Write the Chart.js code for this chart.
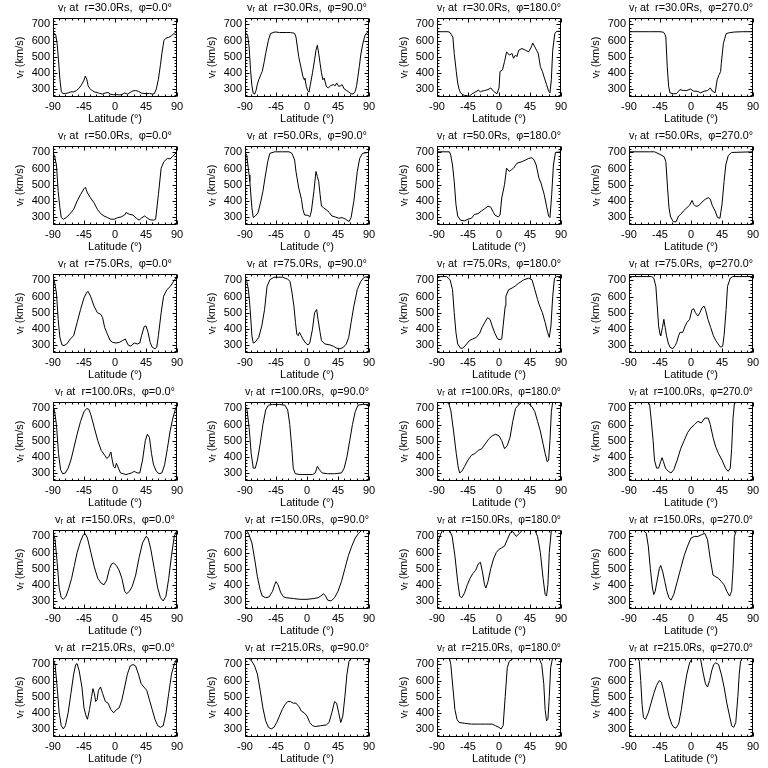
<!DOCTYPE html>
<html>
<head>
<meta charset="utf-8">
<script src="https://cdn.jsdelivr.net/npm/chart.js@4.4.1/dist/chart.umd.min.js"></script>
<style>
body { margin: 0; background: #fff; }
#grid { position: relative; width: 768px; height: 768px; }
#grid canvas { position: absolute; }
</style>
</head>
<body>
<div id="grid"></div>
<script>
// axes
const latTicks = [-90, -45, 0, 45, 90];
const vTicks = [300, 400, 500, 600, 700];
const vMin = 250, vMax = 740;
const radii = [30, 50, 75, 100, 150, 215];
const longitudes = [0, 90, 180, 270];

// [latitude, v_r]
const r30p0 = [[-90,650],[-88,645],[-86,635],[-84,580],[-82,480],[-80,360],[-78,285],[-76,272],[-72,272],[-68,275],[-64,282],[-60,282],[-56,290],[-52,305],[-48,330],[-45,355],[-43,380],[-41,360],[-39,320],[-37,305],[-34,292],[-30,282],[-26,278],[-22,272],[-18,268],[-14,275],[-10,278],[-6,266],[-2,264],[2,265],[6,263],[10,265],[14,275],[18,268],[22,278],[26,288],[30,290],[34,285],[38,275],[42,272],[46,270],[50,272],[54,268],[57,270],[60,300],[63,360],[66,450],[68,520],[71,600],[74,615],[78,620],[82,630],[86,645],[90,660]];
const r30p90 = [[-90,655],[-88,643],[-86,630],[-84,560],[-82,420],[-80,320],[-78,272],[-76,268],[-74,290],[-72,330],[-70,357],[-67,390],[-65,408],[-62,470],[-60,520],[-56,602],[-53,643],[-48,652],[-45,653],[-40,650],[-30,650],[-24,650],[-18,645],[-16,622],[-12,500],[-8,418],[-6,378],[-4,357],[-3,367],[-1,316],[1,290],[3,280],[5,330],[8,400],[11,480],[13,540],[15,571],[17,520],[19,459],[21,400],[23,357],[25,367],[28,316],[31,306],[34,320],[38,327],[41,320],[43,337],[46,316],[49,320],[51,327],[54,300],[57,292],[61,280],[64,270],[67,268],[70,285],[72,320],[74,380],[76,440],[78,510],[81,580],[84,630],[86,645],[90,653]];
const r30p180 = [[-90,655],[-80,655],[-74,655],[-71,650],[-69,635],[-67,622],[-65,520],[-62,408],[-60,337],[-58,300],[-56,276],[-53,265],[-50,260],[-46,258],[-43,255],[-39,270],[-35,280],[-30,292],[-27,282],[-25,286],[-21,290],[-16,296],[-12,306],[-8,286],[-3,270],[0,306],[1.5,408],[5,418],[8,469],[11,530],[15,510],[19,520],[21,490],[24,510],[26,500],[28.6,540],[33.5,551],[38.5,540],[43,530],[47,561],[49,585],[52,561],[54.5,540],[57,520],[60,439],[63,408],[66,367],[69,327],[72,286],[74,276],[76,357],[78,540],[81,643],[83.5,657],[90,657]];
const r30p270 = [[-90,655],[-60,655],[-45,655],[-40,652],[-38,640],[-36.5,622],[-34.5,440],[-32.5,316],[-30.5,276],[-25.6,270],[-21,271],[-18,285],[-16,296],[-11,290],[-6,290],[-1,300],[4,286],[9,286],[14,276],[19,286],[24,290],[28,306],[31,286],[35,276],[38,357],[41,390],[43,408],[44,459],[47,582],[51,643],[56,649],[63,653],[75,655],[90,655]];

const r50p0 = [[-90,704],[-87.5,673],[-85,622],[-82.5,459],[-80,357],[-78,296],[-74.6,286],[-71,296],[-66,316],[-60,347],[-55,398],[-50,439],[-45,475],[-43,484],[-40,449],[-35.5,418],[-30.5,388],[-25.6,347],[-20.7,320],[-16,306],[-11,296],[-6,286],[-1,286],[4,296],[9,300],[14,312],[16,327],[21,316],[26,312],[31,292],[35,280],[38,292],[43,306],[46,296],[51,282],[56,280],[59,286],[63,439],[67,602],[71,643],[76,663],[80,660],[83,673],[87,690],[90,704]];
const r50p90 = [[-90,700],[-87.5,683],[-84,560],[-83,520],[-80,357],[-78,296],[-75,306],[-71,327],[-67,398],[-64,459],[-61,541],[-57,643],[-54,694],[-47,704],[-35,704],[-26,704],[-22,695],[-20.7,683],[-18,653],[-16,582],[-12,480],[-8,408],[-6,347],[-3.5,312],[1.5,310],[4,300],[6.4,337],[10,459],[13,582],[15,551],[17,520],[19,439],[21,367],[24,357],[29,341],[32.5,327],[36,306],[41,300],[46,292],[51,296],[56,286],[61,271],[64,296],[68,398],[73,582],[76.5,663],[80.5,694],[88,700],[90,700]];
const r50p180 = [[-90,704],[-72,704],[-70,683],[-67.5,622],[-65,520],[-62.5,378],[-60,306],[-56,280],[-50,276],[-45,286],[-40,292],[-35.5,316],[-30.5,320],[-25.6,337],[-20.7,351],[-16,367],[-12,361],[-8,327],[-6,312],[-1,300],[1.5,312],[4,418],[8,500],[11,602],[15,582],[17.8,592],[21,602],[26,633],[33.5,643],[38.5,653],[43,663],[48,667],[51,653],[54,622],[58,541],[61,510],[65.6,439],[69,367],[72,306],[74,296],[76.5,439],[79,622],[82,700],[90,704]];
const r50p270 = [[-90,704],[-60,704],[-53,704],[-45,688],[-39,673],[-36.5,643],[-34,480],[-32,357],[-29.6,300],[-25.6,270],[-21.7,270],[-18,306],[-15,316],[-11,337],[-6,357],[-2,373],[1.5,402],[4,378],[6.4,367],[10,367],[14,382],[17.8,400],[21,410],[25,420],[28,410],[31,370],[35,337],[38.5,296],[42,292],[45,378],[48,520],[50.5,622],[54,680],[59,700],[90,704]];

const r75p0 = [[-90,728],[-87.5,683],[-85,622],[-82.5,459],[-80,347],[-77,300],[-74,296],[-70,306],[-65,337],[-60,357],[-55,439],[-50,520],[-45,592],[-41,626],[-39,632],[-35.5,602],[-30.5,541],[-25.6,500],[-20.7,490],[-18,469],[-15,408],[-11,367],[-7,327],[-3.5,316],[1.5,312],[6.4,316],[11,327],[15,337],[19,300],[23,292],[26,306],[28.6,312],[32.5,306],[36,312],[38.5,357],[42.4,414],[45,418],[48,378],[51,316],[54,286],[58,276],[60.6,286],[63,357],[67,500],[70.5,602],[75.4,643],[80.4,663],[85,694],[90,724]];
const r75p90 = [[-90,724],[-87.5,694],[-85,643],[-82.5,520],[-80,357],[-78,312],[-75.5,316],[-70,347],[-65.6,418],[-61.6,520],[-58,663],[-54,704],[-48,720],[-35.5,720],[-28,708],[-24.6,694],[-21.7,622],[-19,541],[-16.7,439],[-14.8,367],[-12.8,357],[-11,378],[-8.4,357],[-6,337],[-2,312],[1.5,300],[4,312],[8,398],[11,500],[14,520],[16,459],[19,378],[21,327],[26,306],[33.5,300],[38.5,292],[43,280],[48,276],[53,286],[57,306],[60.6,347],[64,439],[68,541],[73,643],[78,694],[83,720],[90,724]];
const r75p180 = [[-90,724],[-76,724],[-71,704],[-67.5,643],[-65,500],[-62.5,378],[-60,306],[-56,280],[-52.8,280],[-48,300],[-43,327],[-38,337],[-33,347],[-28,373],[-24.6,408],[-20.7,439],[-16.7,469],[-13,459],[-10,418],[-6,373],[-2,337],[1.5,333],[4,337],[6,418],[9,541],[10,602],[14,643],[19,653],[24,667],[28.6,683],[36,704],[43,714],[48,704],[52,643],[56,582],[59,541],[63,500],[67,439],[70.5,378],[73,347],[75.4,418],[78,602],[80.5,714],[84,724],[90,724]];
const r75p270 = [[-90,724],[-57,724],[-54,714],[-51,663],[-49,541],[-47,418],[-45,367],[-44,357],[-41.4,408],[-39.4,459],[-37.5,408],[-35.5,357],[-33,312],[-30.5,286],[-26.6,276],[-23,296],[-20.7,316],[-18,357],[-16,378],[-12,378],[-8.4,418],[-6,439],[-2,459],[1.5,520],[4,524],[6.4,500],[10,480],[13,500],[16,530],[19,541],[21,520],[24.6,459],[28.6,408],[32.5,357],[36,327],[39.4,306],[43,286],[46,292],[48,357],[51,520],[53,663],[57,714],[60.6,724],[90,724]];

const r100p0 = [[-90,715],[-88,690],[-85,600],[-82,420],[-79,320],[-76,295],[-72,300],[-68,330],[-64,380],[-60,450],[-55,540],[-50,620],[-45,680],[-41,700],[-38,695],[-35,660],[-30,580],[-25,500],[-20,440],[-15,410],[-12,390],[-9,400],[-6,430],[-4,380],[-2,340],[0,330],[2,360],[5,330],[8,300],[12,295],[16,290],[20,295],[24,300],[28,310],[32,300],[36,300],[40,380],[44,500],[47,540],[50,520],[53,420],[56,350],[60,310],[64,295],[68,300],[72,350],[76,450],[80,560],[84,640],[88,700],[90,720]];
const r100p90 = [[-90,720],[-87,690],[-84,580],[-81,420],[-78,330],[-75,330],[-72,380],[-68,480],[-64,600],[-60,690],[-56,720],[-50,725],[-40,725],[-32,720],[-28,690],[-25,600],[-22,450],[-20,330],[-17,295],[-10,290],[0,290],[8,290],[12,300],[15,340],[18,320],[22,300],[30,295],[40,295],[50,300],[54,330],[58,400],[62,500],[66,600],[70,680],[74,720],[80,725],[90,725]];
const r100p180 = [[-90,740],[-76,740],[-73,730],[-70,690],[-66,560],[-62,420],[-59,330],[-57,300],[-54,310],[-50,340],[-45,380],[-40,410],[-35,420],[-30,440],[-25,450],[-20,480],[-15,510],[-10,530],[-5,540],[0,530],[4,500],[8,450],[12,470],[16,520],[20,620],[24,700],[28,720],[33,740],[38,740],[43,730],[48,710],[52,680],[56,620],[60,560],[64,480],[67,420],[70,370],[72,380],[74,500],[76,680],[78,740],[90,740]];
const r100p270 = [[-90,740],[-62,740],[-60,720],[-58,640],[-55,500],[-53,380],[-50,330],[-47,330],[-44,370],[-42,395],[-40,370],[-37,330],[-33,310],[-29,300],[-25,320],[-20,380],[-15,450],[-10,500],[-5,550],[0,580],[5,600],[10,620],[15,610],[20,640],[25,640],[28,600],[32,520],[36,460],[40,420],[45,380],[50,330],[54,310],[57,330],[59,450],[61,640],[63,730],[66,740],[90,740]];

const r150p0 = [[-90,730],[-87,680],[-84,540],[-81,380],[-78,320],[-75,310],[-71,330],[-67,380],[-63,440],[-59,520],[-55,600],[-50,670],[-46,710],[-43,715],[-40,690],[-35,600],[-30,510],[-25,440],[-20,410],[-16,400],[-12,430],[-8,500],[-5,530],[-2,535],[2,520],[6,490],[10,440],[14,360],[17,345],[21,360],[25,390],[30,460],[35,570],[40,660],[45,700],[48,690],[52,620],[57,500],[62,380],[66,320],[70,300],[74,330],[78,440],[82,580],[86,700],[90,740]];
const r150p90 = [[-90,750],[-85,720],[-80,660],[-76,560],[-72,450],[-68,370],[-65,330],[-60,320],[-55,325],[-50,360],[-47,400],[-45,420],[-42,400],[-38,350],[-34,325],[-30,320],[-20,315],[-10,310],[0,310],[10,315],[16,320],[20,330],[24,345],[27,330],[30,305],[35,300],[40,320],[45,360],[50,420],[55,500],[60,580],[65,640],[70,690],[75,720],[80,740],[90,750]];
const r150p180 = [[-90,650],[-86,700],[-82,740],[-76,745],[-72,740],[-68,700],[-64,580],[-60,420],[-57,330],[-54,320],[-50,350],[-46,400],[-42,440],[-38,470],[-34,490],[-30,530],[-27,540],[-24,480],[-21,400],[-19,380],[-16,420],[-12,500],[-8,560],[-4,600],[0,620],[4,630],[8,640],[12,680],[16,720],[20,730],[25,700],[30,720],[35,745],[45,745],[52,740],[56,700],[60,600],[64,440],[67,340],[69,330],[71,400],[73,600],[76,740],[90,745]];
const r150p270 = [[-90,740],[-80,745],[-70,740],[-65,720],[-62,640],[-59,500],[-56,380],[-54,340],[-52,360],[-49,430],[-46,500],[-44,520],[-41,480],[-38,420],[-35,360],[-32,320],[-29,305],[-25,340],[-20,420],[-15,500],[-10,580],[-5,640],[0,690],[5,700],[10,700],[15,710],[20,720],[24,680],[28,560],[32,460],[36,450],[40,440],[44,420],[48,400],[52,360],[56,330],[59,360],[61,500],[63,700],[66,740],[90,745]];

const r215p0 = [[-90,730],[-87,700],[-84,560],[-81,400],[-78,320],[-75,300],[-72,320],[-68,400],[-64,520],[-60,640],[-57,700],[-55,705],[-52,660],[-48,560],[-45,430],[-42,380],[-40,360],[-37,420],[-34,500],[-32,550],[-30,520],[-28,470],[-26,480],[-24,540],[-21,560],[-18,520],[-14,470],[-10,460],[-6,420],[-2,400],[2,420],[6,430],[10,480],[14,560],[18,640],[22,690],[26,700],[30,690],[34,640],[38,580],[42,560],[46,540],[50,480],[54,420],[58,360],[62,320],[66,310],[70,320],[74,400],[78,520],[82,640],[86,700],[90,740]];
const r215p90 = [[-90,750],[-85,740],[-80,720],[-76,690],[-72,640],[-68,540],[-64,430],[-60,350],[-56,310],[-52,300],[-48,310],[-44,340],[-40,380],[-36,420],[-32,450],[-28,470],[-24,470],[-20,460],[-16,460],[-12,440],[-8,410],[-4,400],[0,380],[4,340],[8,320],[12,315],[20,320],[28,325],[32,340],[36,400],[40,470],[43,460],[46,400],[49,340],[52,380],[55,500],[58,640],[61,720],[65,745],[90,750]];
const r215p180 = [[-90,740],[-76,745],[-72,740],[-70,700],[-67,560],[-64,420],[-61,360],[-58,340],[-50,335],[-40,330],[-30,330],[-20,330],[-10,330],[-5,320],[0,310],[3,300],[6,320],[9,500],[12,680],[15,720],[20,735],[30,745],[40,750],[50,750],[58,740],[62,700],[65,580],[67,420],[69,350],[71,360],[73,500],[75,680],[78,745],[90,750]];
const r215p270 = [[-90,750],[-78,750],[-75,720],[-73,600],[-71,450],[-69,370],[-66,360],[-62,400],[-58,460],[-54,520],[-50,570],[-46,600],[-43,590],[-40,540],[-36,460],[-32,380],[-28,330],[-25,310],[-22,305],[-18,330],[-14,420],[-10,540],[-6,640],[-2,710],[2,740],[6,745],[10,745],[14,730],[18,640],[21,580],[24,560],[27,600],[30,660],[33,700],[36,710],[40,700],[44,640],[48,560],[52,460],[56,380],[59,320],[62,310],[65,340],[68,500],[70,640],[72,720],[75,745],[90,750]];

const panels = [
    [r30p0, r30p90, r30p180, r30p270],
    [r50p0, r50p90, r50p180, r50p270],
    [r75p0, r75p90, r75p180, r75p270],
    [r100p0, r100p90, r100p180, r100p270],
    [r150p0, r150p90, r150p180, r150p270],
    [r215p0, r215p90, r215p180, r215p270]
];

Chart.defaults.font.family = "'Liberation Sans', 'DejaVu Sans', sans-serif";
Chart.defaults.font.size = 11;
Chart.defaults.color = '#000';

// box round the plot with inward ticks, IDL style
const frame = {
    id: 'frame',
    afterDraw(chart) {
        const {ctx, chartArea: a, scales: {x, y}} = chart;
        const L = Math.round(a.left) + 0.5, R = Math.round(a.right) - 0.5;
        const T = Math.round(a.top) + 0.5, B = Math.round(a.bottom) - 0.5;
        ctx.save();
        ctx.strokeStyle = '#000';
        ctx.lineWidth = 1;
        ctx.beginPath();
        ctx.rect(L, T, R - L, B - T);
        for (let v = -90; v <= 90; v += 9) {
            const px = Math.round(x.getPixelForValue(v)) + 0.5;
            const len = latTicks.includes(v) ? 4 : 2;
            ctx.moveTo(px, B); ctx.lineTo(px, B - len);
            ctx.moveTo(px, T); ctx.lineTo(px, T + len);
        }
        for (let v = 260; v <= vMax; v += 20) {
            const py = Math.round(y.getPixelForValue(v)) + 0.5;
            const len = vTicks.includes(v) ? 4 : 2;
            ctx.moveTo(L, py); ctx.lineTo(L + len, py);
            ctx.moveTo(R, py); ctx.lineTo(R - len, py);
        }
        ctx.stroke();
        ctx.restore();
    }
};

const grid = document.getElementById('grid');
radii.forEach((r, row) => {
    longitudes.forEach((phi, col) => {
        const cv = document.createElement('canvas');
        cv.width = 192;
        cv.height = 128;
        cv.style.left = (col * 192) + 'px';
        cv.style.top = (row * 128) + 'px';
        grid.appendChild(cv);

        new Chart(cv, {
            type: 'line',
            data: {
                datasets: [{
                    data: panels[row][col],
                    borderColor: '#000',
                    borderWidth: 1,
                    pointRadius: 0,
                    tension: 0
                }]
            },
            options: {
                responsive: false,
                animation: false,
                events: [],
                layout: { padding: { left: 0, right: 15, top: 0, bottom: 0 } },
                plugins: {
                    legend: { display: false },
                    tooltip: { enabled: false },
                    title: {
                        display: true,
                        fullSize: false,
                        text: `vᵣ at  r=${r.toFixed(1)}Rs,  φ=${phi.toFixed(1)}°`,
                        font: { size: 11, weight: 'normal', lineHeight: '13px' },
                        padding: { top: 1, bottom: 4 }
                    }
                },
                scales: {
                    x: {
                        type: 'linear',
                        min: -90,
                        max: 90,
                        grid: { display: false, drawTicks: false },
                        border: { display: false },
                        ticks: { padding: 3, maxRotation: 0, autoSkip: false },
                        afterBuildTicks: s => { s.ticks = latTicks.map(v => ({ value: v })); },
                        afterFit: s => { s.height = 31; },
                        title: { display: true, text: 'Latitude (°)', padding: { top: 0, bottom: 2 } }
                    },
                    y: {
                        type: 'linear',
                        min: vMin,
                        max: vMax,
                        grid: { display: false, drawTicks: false },
                        border: { display: false },
                        ticks: { padding: 3 },
                        afterBuildTicks: s => { s.ticks = vTicks.map(v => ({ value: v })); },
                        afterFit: s => { s.width = 53; },
                        title: { display: true, text: 'vᵣ (km/s)', padding: { top: 13, bottom: 0 } }
                    }
                }
            },
            plugins: [frame]
        });
    });
});
</script>
</body>
</html>
